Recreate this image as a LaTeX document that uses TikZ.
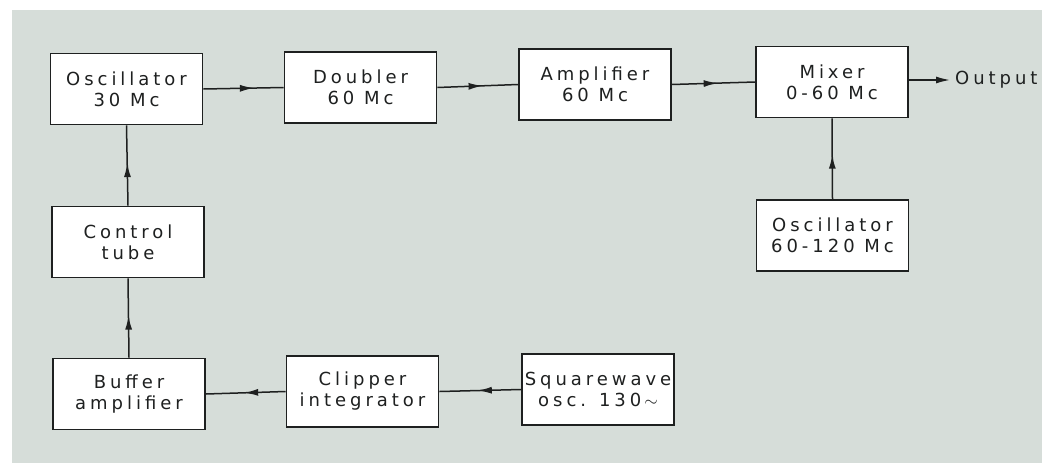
\documentclass[tikz,border=0pt]{standalone}
\usepackage{fontspec}
\setmainfont{DejaVu Sans}[LetterSpace=22]
\usetikzlibrary{arrows.meta,decorations.markings}
\definecolor{paper}{RGB}{214,221,217}
\definecolor{ink}{RGB}{30,32,32}
\tikzset{
  blockbox/.style={draw=ink, line width=1.8pt, fill=white, minimum width=152pt, minimum height=71pt,
    inner sep=0pt, align=center, text=ink, font=\fontsize{18}{21}\selectfont},
  wire/.style={draw=ink, line width=1.5pt},
  midarrow/.style={wire, postaction={decorate}, decoration={markings,
    mark=at position #1 with {\arrow[ink]{Latex[length=14pt,width=7pt]}}}},
  lbl/.style={text=ink, font=\fontsize{18}{21}\selectfont, inner sep=0pt, anchor=west}
}
\begin{document}
\begin{tikzpicture}[x=1pt,y=-1pt]
\useasboundingbox (0,0) rectangle (1042,463);
\fill[white] (0,0) rectangle (1042,463);
\fill[paper] (12,10) rectangle (1042,463);

\node[blockbox] (osca) at (126.5,89) {Oscillator\\30 Mc};
\node[blockbox] (dbl) at (360.5,87.5) {Doubler\\60 Mc};
\node[blockbox] (amp) at (595,84.5) {Amplifier\\60 Mc};
\node[blockbox] (mix) at (832,82) {Mixer\\0-60 Mc};
\node[blockbox] (oscb) at (832.5,235.5) {Oscillator\\60-120 Mc};
\node[blockbox] (ctl) at (128,242) {Control\\tube};
\node[blockbox] (buf) at (129,394) {Buffer\\amplifier};
\node[blockbox] (clip) at (362.5,391.5) {Clipper\\integrator};
\node[blockbox] (sq) at (598,389.5) {Squarewave\\osc. 130\,$\sim$};
\node[lbl] (out) at (955,80) {Output};
\coordinate (outend) at (950,80);

\draw[midarrow=0.63] (osca.east) -- (dbl.west);
\draw[midarrow=0.56] (dbl.east) -- (amp.west);
\draw[midarrow=0.55] (amp.east) -- (mix.west);
\draw[wire, -{Latex[length=14pt,width=7pt]}] (mix.east |- outend) -- (outend);
\draw[midarrow=0.55] (oscb.north) -- (mix.south);
\draw[midarrow=0.53] (ctl.north) -- (osca.south);
\draw[midarrow=0.53] (buf.north) -- (ctl.south);
\draw[midarrow=0.52] (clip.west) -- (buf.east);
\draw[midarrow=0.53] (sq.west) -- (clip.east);
\end{tikzpicture}
\end{document}
